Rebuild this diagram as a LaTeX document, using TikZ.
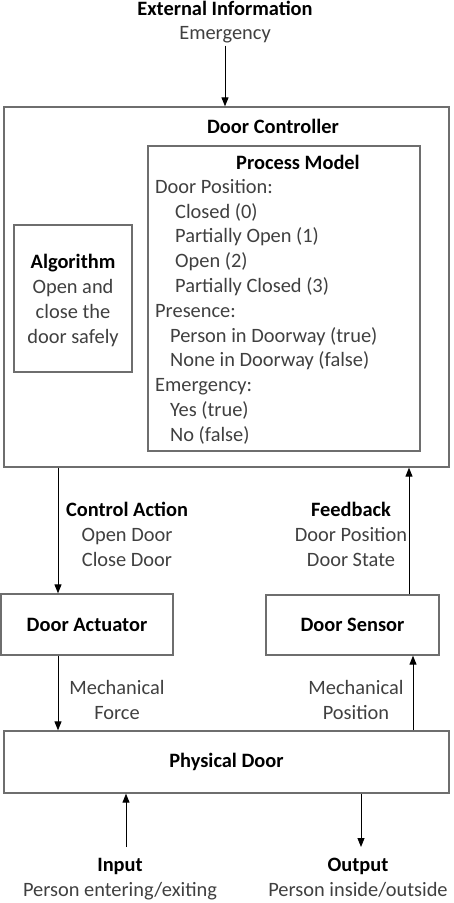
\documentclass[tikz,border=0pt]{standalone}
\usepackage{fontspec}
\setmainfont{Carlito}
\usetikzlibrary{arrows.meta,positioning,calc}
\definecolor{txtgray}{HTML}{404040}
\definecolor{boxgray}{HTML}{6E6E6E}
\newcommand{\hd}[1]{\textcolor{black}{\bfseries #1}}

\begin{document}
\begin{tikzpicture}[
  x=1pt, y=-1pt,
  >={Triangle[length=9pt,width=7pt]},
  every node/.style={font=\fontsize{20.4}{24.8}\selectfont, text=txtgray, inner sep=0pt},
  box/.style={draw=boxgray, line width=1.3pt, fill=white},
  lab/.style={align=center},
  arr/.style={->, line width=0.9pt, draw=black}
]
\useasboundingbox (0,0) rectangle (453,903);

% controller and its parts
\node[box, minimum width=445pt, minimum height=360pt] (ctrl) at (226.5,287) {};
\node (ctrlT) at (273,126) {\hd{Door Controller}};
\node[box, minimum width=272pt, minimum height=305pt] (pm) at (284,298.5) {};
\node (pmT) at (298,162) {\hd{Process Model}};
\node[align=left, anchor=north west] (pmL) at (155,179) {Door Position:\\
  \hspace*{20pt}Closed (0)\\
  \hspace*{20pt}Partially Open (1)\\
  \hspace*{20pt}Open (2)\\
  \hspace*{20pt}Partially Closed (3)\\
  Presence:\\
  \hspace*{15pt}Person in Doorway (true)\\
  \hspace*{15pt}None in Doorway (false)\\
  Emergency:\\
  \hspace*{15pt}Yes (true)\\
  \hspace*{15pt}No (false)};
\node[box, minimum width=118pt, minimum height=147pt] (alg) at (73,298.5) {};
\node[lab] (algT) at (73,300.5) {\hd{Algorithm}\\Open and\\close the\\door safely};

% lower boxes
\node[box, minimum width=172pt, minimum height=61pt] (act) at (87,624.5) {\hd{Door Actuator}};
\node[box, minimum width=173pt, minimum height=60pt] (sens) at (352.5,625) {\hd{Door Sensor}};
\node[box, minimum width=445pt, minimum height=62pt] (door) at (226.5,762) {\hd{Physical Door}};

% labels
\node[lab] (ext) at (225,22) {\hd{External Information}\\Emergency};
\node[lab] (ca) at (127,534.5) {\hd{Control Action}\\Open Door\\Close Door};
\node[lab] (fb) at (351,534.5) {\hd{Feedback}\\Door Position\\Door State};
\node[lab] (mf) at (117,700) {Mechanical\\Force};
\node[lab] (mp) at (356,700) {Mechanical\\Position};
\node[lab] (in) at (120,879) {\hd{Input}\\Person entering/exiting};
\node[lab] (out) at (358,877.5) {\hd{Output}\\Person inside/outside};
\coordinate (inA) at (126,847);
\coordinate (outA) at (361,847);

% connectors
\draw[arr] ([yshift=-2pt]ext.south) -- (ext.south |- ctrl.north);
\draw[arr] ([xshift=-29pt]act.north |- ctrl.south) -- ([xshift=-29pt]act.north);
\draw[arr] ([xshift=56.5pt]sens.north) -- ([xshift=56.5pt]sens.north |- ctrl.south);
\draw[arr] ([xshift=-29pt]act.south) -- ([xshift=-29pt]act.south |- door.north);
\draw[arr] ([xshift=60.5pt]sens.south |- door.north) -- ([xshift=60.5pt]sens.south);
\draw[arr] (inA) -- (inA |- door.south);
\draw[arr] (door.south -| outA) -- (outA);
\end{tikzpicture}
\end{document}
